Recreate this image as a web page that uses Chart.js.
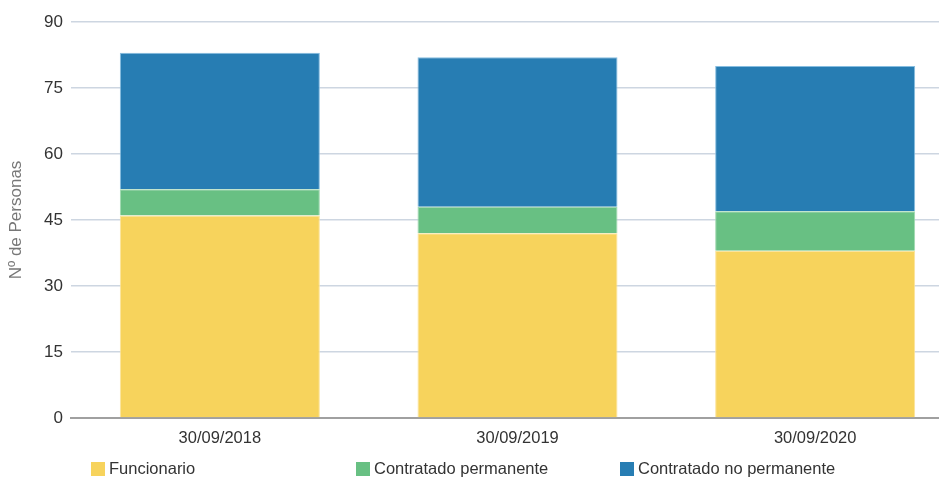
<!DOCTYPE html>
<html>
<head>
<meta charset="utf-8">
<script src="https://cdn.jsdelivr.net/npm/chart.js@4"></script>
<style>
  html, body { margin: 0; padding: 0; background: #fff; overflow: hidden; width: 939px; height: 479px; }
  #wrap { position: relative; width: 964px; height: 479px; }
  .leg { position: absolute; top: 459px; font: 16.5px "Liberation Sans", Arial, sans-serif; color: #333; white-space: nowrap; }
  .leg i { display: inline-block; width: 14px; height: 14px; vertical-align: -2px; margin-right: 4px; }
</style>
</head>
<body>
<div id="wrap">
  <canvas id="grafico" width="964" height="479"></canvas>
</div>

<script>
// =====================================================
// DATOS
// =====================================================

const fechas = ['30/09/2018', '30/09/2019', '30/09/2020']
const funcionario = [46, 42, 38]
const contratadoPermanente = [6, 6, 9]
const contratadoNoPermanente = [31, 34, 33]
const ticksY = [0, 15, 30, 45, 60, 75, 90]

const SERIES = [
  { label: 'Funcionario',              data: funcionario,            color: '#f7d35c', borde: '#fbe39a', left: 91 },
  { label: 'Contratado permanente',    data: contratadoPermanente,   color: '#68c083', borde: '#9fd8ae', left: 356 },
  { label: 'Contratado no permanente', data: contratadoNoPermanente, color: '#277db3', borde: '#86bde0', left: 620 }
]

const FUENTE = '"Liberation Sans", Arial, sans-serif'

// =====================================================
// LEYENDA (HTML)
// =====================================================

const wrap = document.getElementById('wrap')
SERIES.forEach(s => {
  const d = document.createElement('div')
  d.className = 'leg'
  d.style.left = s.left + 'px'
  d.innerHTML = `<i style="background:${s.color}"></i>${s.label}`
  wrap.appendChild(d)
})

// =====================================================
// GRÁFICA
// =====================================================

new Chart(document.getElementById('grafico').getContext('2d'), {
  type: 'bar',
  data: {
    labels: fechas,
    datasets: SERIES.map(s => ({
      label: s.label,
      data: s.data,
      backgroundColor: s.color,
      borderColor: s.borde,
      borderWidth: 1,
      barPercentage: 0.672,
      categoryPercentage: 1
    }))
  },
  options: {
    responsive: false,
    animation: false,
    layout: { padding: { top: 22, right: 0, bottom: 0, left: 0 } },
    plugins: {
      legend: { display: false },
      tooltip: { enabled: false }
    },
    scales: {
      x: {
        stacked: true,
        grid: { display: false },
        border: { display: true, color: '#a0a0a0', width: 2 },
        ticks: { color: '#333', font: { family: FUENTE, size: 16.5 }, padding: 3 },
        afterFit: sc => { sc.height = 61 }
      },
      y: {
        stacked: true,
        min: 0,
        max: 90,
        afterBuildTicks: sc => { sc.ticks = ticksY.map(v => ({ value: v })) },
        grid: {
          color: ctx => ctx.tick && ctx.tick.value === 0 ? 'rgba(0,0,0,0)' : '#cdd6e1',
          lineWidth: 1.5,
          drawTicks: false
        },
        border: { display: false },
        ticks: { color: '#333', font: { family: FUENTE, size: 17 }, padding: 8 },
        title: {
          display: true,
          text: 'Nº de Personas',
          color: '#777',
          font: { family: FUENTE, size: 17 },
          padding: { top: 6, bottom: 0 }
        },
        afterFit: sc => { sc.width = 71 }
      }
    }
  }
})
</script>
</body>
</html>
